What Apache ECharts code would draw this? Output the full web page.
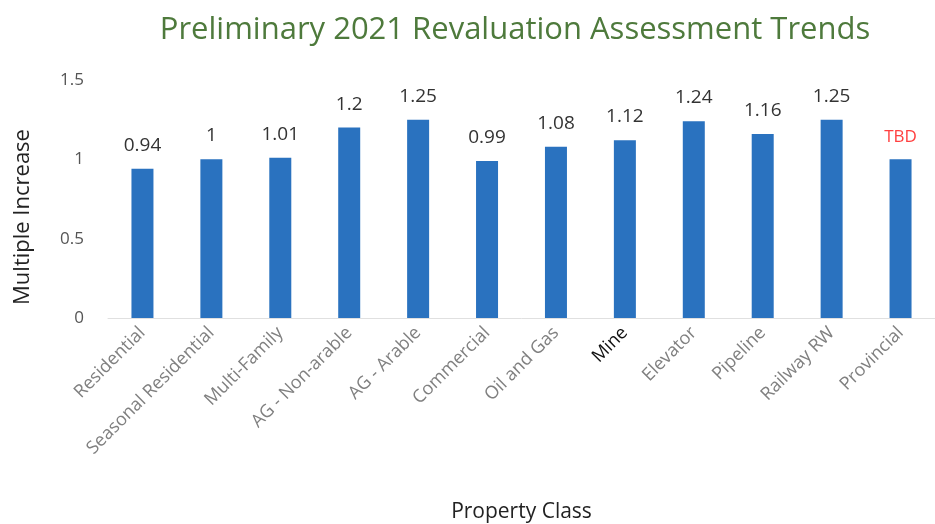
<!DOCTYPE html>
<html>
<head>
<meta charset="utf-8">
<script src="https://cdn.jsdelivr.net/npm/echarts@6/dist/echarts.min.js"></script>
<style>
  html, body { margin: 0; padding: 0; background: #fff; }
  #main { width: 935px; height: 524px; }
</style>
</head>
<body>
<div id="main"></div>
<script>
// 类别与数值
var categories = ['Residential', 'Seasonal Residential', 'Multi-Family', 'AG - Non-arable', 'AG - Arable',
  'Commercial', 'Oil and Gas', 'Mine', 'Elevator', 'Pipeline', 'Railway RW', 'Provincial'];
var values = [0.94, 1, 1.01, 1.2, 1.25, 0.99, 1.08, 1.12, 1.24, 1.16, 1.25, 1];
// 柱顶标签（最后一个为待定）
var barLabels = ['0.94', '1', '1.01', '1.2', '1.25', '0.99', '1.08', '1.12', '1.24', '1.16', '1.25', 'TBD'];
var yTicks = [0, 0.5, 1, 1.5];

var chart = echarts.init(document.getElementById('main'));

var data = values.map(function (v, i) {
  var item = { value: v };
  if (barLabels[i] === 'TBD') {
    item.label = { color: '#ff4040', fontSize: 17 };
  }
  return item;
});

var option = {
  animation: false,
  title: {
    text: 'Preliminary 2021 Revaluation Assessment Trends',
    left: 510,
    textAlign: 'center',
    top: 10,
    textStyle: {
      color: '#4e7a3c',
      fontSize: 31,
      fontWeight: 'normal',
      fontFamily: 'Open Sans'
    }
  },
  grid: {
    left: 108,
    top: 80,
    width: 834,
    height: 238
  },
  xAxis: {
    type: 'category',
    data: categories,
    name: 'Property Class',
    nameLocation: 'middle',
    nameGap: 184,
    nameTextStyle: { color: '#222', fontSize: 21, fontFamily: 'Open Sans' },
    axisLine: { lineStyle: { color: '#e0e0e0', width: 1 } },
    axisTick: { show: false },
    axisLabel: {
      rotate: 45,
      interval: 0,
      margin: 12,
      fontSize: 18,
      fontFamily: 'Open Sans',
      color: function (val) {
        return val === 'Mine' ? '#111' : '#808080';
      }
    }
  },
  yAxis: {
    type: 'value',
    min: yTicks[0],
    max: yTicks[yTicks.length - 1],
    interval: 0.5,
    name: 'Multiple Increase',
    nameLocation: 'middle',
    nameGap: 74,
    // 右侧留白让竖排标题略向下
    nameTextStyle: { color: '#222', fontSize: 22, fontFamily: 'Open Sans', padding: [0, 36, 0, 0] },
    axisLine: { show: false },
    axisTick: { show: false },
    splitLine: { show: false },
    axisLabel: {
      margin: 24,
      fontSize: 17,
      fontFamily: 'Open Sans',
      color: '#555'
    }
  },
  series: [{
    type: 'bar',
    data: data,
    barWidth: 22,
    itemStyle: { color: '#2a72bf' },
    label: {
      show: true,
      position: 'top',
      distance: 14,
      fontSize: 19,
      fontFamily: 'Open Sans',
      color: '#333',
      formatter: function (p) {
        return barLabels[p.dataIndex];
      }
    }
  }]
};

chart.setOption(option);
</script>
</body>
</html>
